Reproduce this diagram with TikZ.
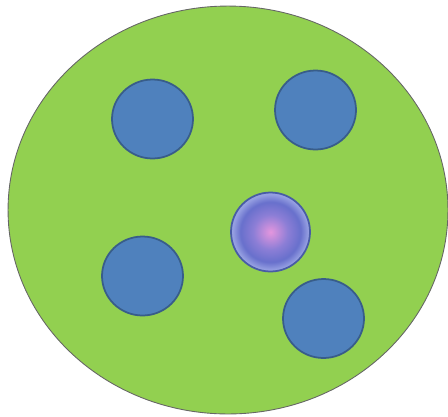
\documentclass[tikz,border=0pt]{standalone}
\usepackage{xcolor}
\usepackage{tikz}
\usetikzlibrary{shapes.geometric, positioning}

\definecolor{cellgreen}{RGB}{146,208,80}
\definecolor{dotblue}{RGB}{79,129,189}
\definecolor{dotedge}{RGB}{56,93,138}
\definecolor{coreedge}{RGB}{72,92,165}
\definecolor{corepink}{RGB}{228,150,222}
\definecolor{coremid}{RGB}{140,126,214}
\definecolor{coreblue}{RGB}{104,112,204}
\definecolor{corerim}{RGB}{150,160,226}

\pgfdeclareradialshading{coreshade}{\pgfpoint{0bp}{0bp}}{%
  color(0bp)=(corepink); color(11bp)=(coremid); color(19bp)=(coreblue);
  color(24bp)=(corerim); color(50bp)=(corerim)}

\tikzset{
  cell/.style={ellipse, draw=black!60, line width=0.5pt, fill=cellgreen, inner sep=0pt},
  dot/.style={ellipse, draw=dotedge, line width=1pt, fill=dotblue, inner sep=0pt,
    minimum width=1.62cm, minimum height=1.58cm},
  core/.style={circle, draw=coreedge, line width=1pt, shading=coreshade, inner sep=0pt,
    minimum size=1.58cm}
}

\begin{document}
\begin{tikzpicture}[x=0.02cm,y=-0.02cm]
\useasboundingbox (0,0) rectangle (448,416);

% Cell body
\node[cell, minimum width=8.8cm, minimum height=8.16cm] (body) at (228,210) {};

% Blue dots
\node[dot] (dotA) at (152.5,119) {};
\node[dot] (dotB) at (315.5,110) {};
\node[dot] (dotC) at (142.5,276) {};
\node[dot] (dotD) at (323.5,318.5) {};

% Core
\node[core] (core) at (270.5,232) {};

\end{tikzpicture}
\end{document}
